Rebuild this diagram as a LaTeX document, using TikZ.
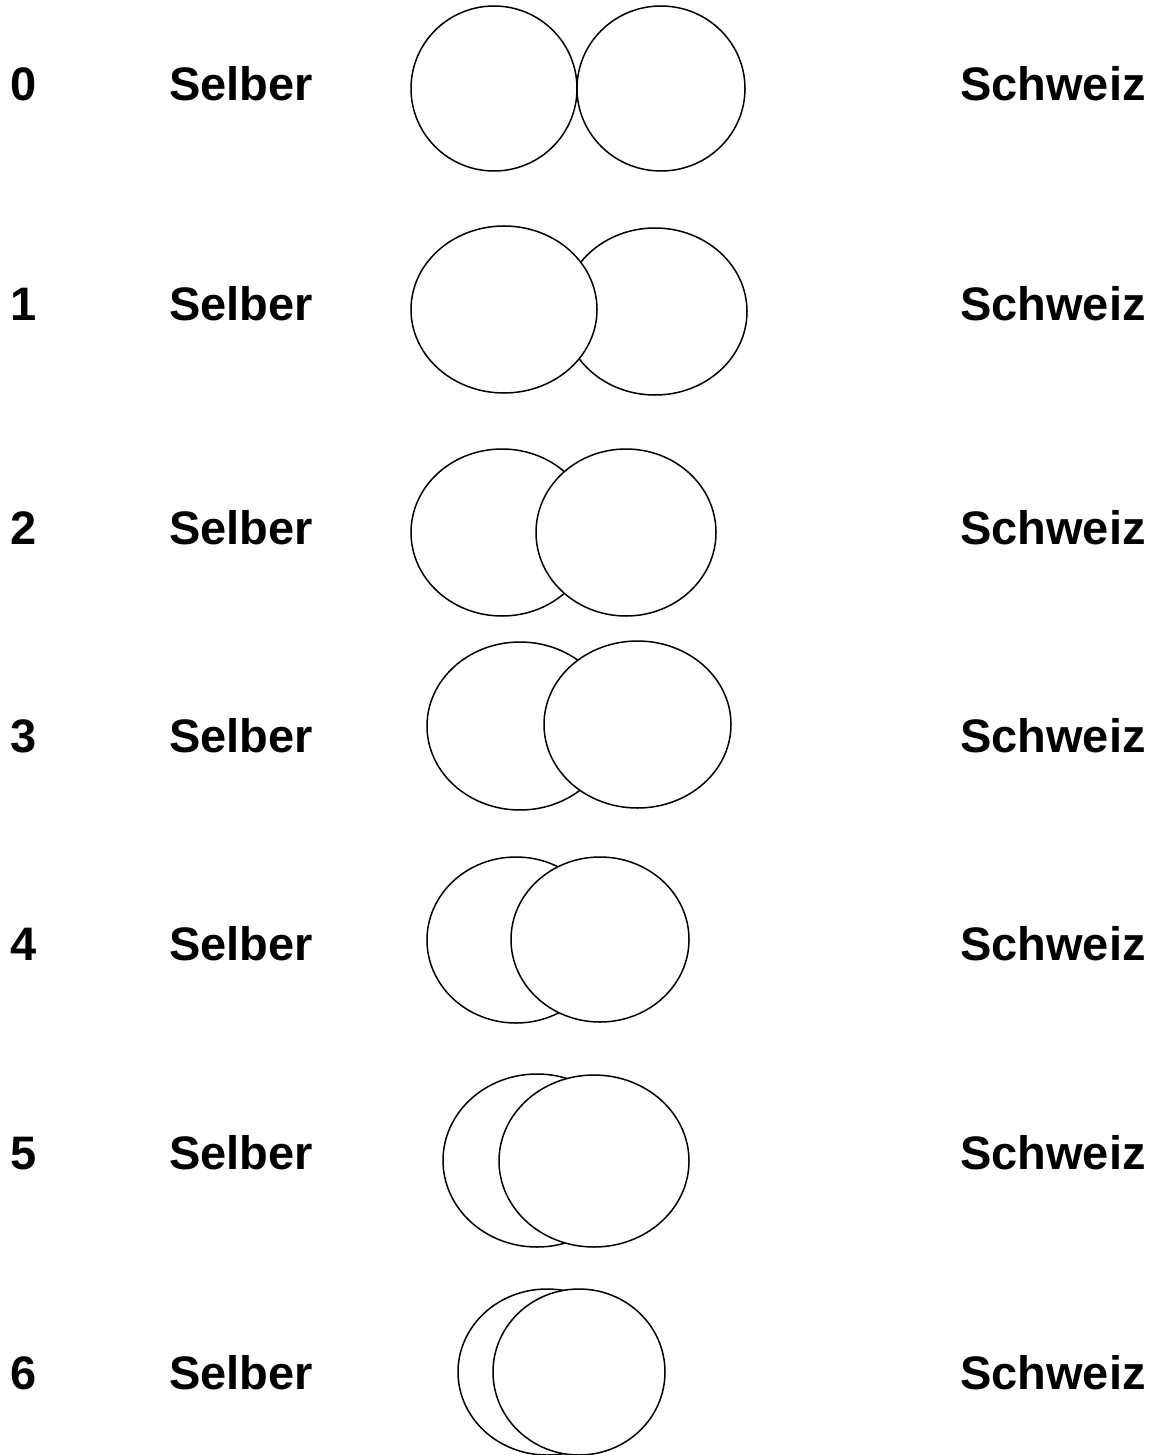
\documentclass[tikz,border=0pt]{standalone}
\usepackage{fontspec}
\setmainfont{Liberation Sans}
\begin{document}
\begin{tikzpicture}[x=1pt,y=-1pt,
  lbl/.style={anchor=base west,inner sep=0pt,font=\fontsize{47}{50}\selectfont\bfseries},
  ring/.style={draw=black,line width=1.5pt,fill=white}]
\useasboundingbox (0,0) rectangle (1160,1455);
% row labels
\foreach \r/\yb in {0/101,1/320,2/544,3/752,4/960,5/1169,6/1389}{
  \node[lbl] (n\r) at (10,\yb) {\r};
  \node[lbl] (s\r) at (169,\yb) {Selber};
  \node[lbl] (c\r) at (960,\yb) {Schweiz};
}
% row 0
\draw[ring] (494,88.5) ellipse [x radius=83pt, y radius=82.5pt];
\draw[ring] (661,88.5) ellipse [x radius=84pt, y radius=82.5pt];
% row 1 (left on top)
\draw[ring] (655,311.5) ellipse [x radius=92pt, y radius=83.5pt];
\draw[ring] (504,309.5) ellipse [x radius=93pt, y radius=83.5pt];
% row 2
\draw[ring] (502,532.5) ellipse [x radius=91pt, y radius=83.5pt];
\draw[ring] (626,532.5) ellipse [x radius=90pt, y radius=83.5pt];
% row 3
\draw[ring] (520,726) ellipse [x radius=93pt, y radius=84pt];
\draw[ring] (637.5,724.5) ellipse [x radius=93.5pt, y radius=83.5pt];
% row 4
\draw[ring] (516,940) ellipse [x radius=89pt, y radius=83pt];
\draw[ring] (600,939.5) ellipse [x radius=89pt, y radius=82.5pt];
% row 5
\draw[ring] (537,1160.5) ellipse [x radius=94pt, y radius=86.5pt];
\draw[ring] (594,1161) ellipse [x radius=95pt, y radius=86pt];
% row 6
\draw[ring] (547,1372) ellipse [x radius=89pt, y radius=83pt];
\draw[ring] (579,1372) ellipse [x radius=86pt, y radius=83pt];
\end{tikzpicture}
\end{document}
